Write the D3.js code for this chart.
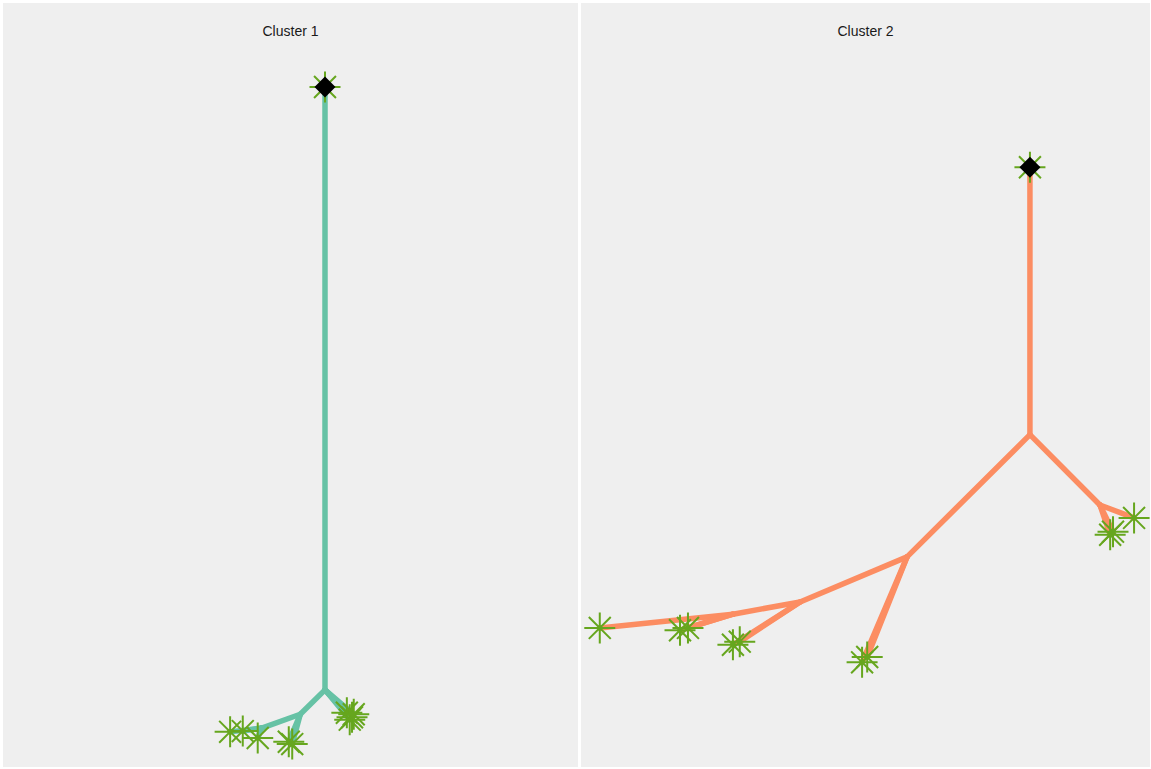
<!DOCTYPE html>
<html>
<head>
<meta charset="utf-8">
<script src="https://cdn.jsdelivr.net/npm/d3@7"></script>
<style>
html,body{margin:0;padding:0;background:#ffffff;}
svg{display:block;}
</style>
</head>
<body>
<svg id="chart" width="1151" height="769"></svg>
<script>
// ---- data (tree node positions in data units) ----
const clusters = ["Cluster 1", "Cluster 2"];

// Cluster 1 nodes: id, x, y, leaf flag
const c1NodeIds = ["R","A","B","C","L1","L2","L3","L9","L4","L5","L6","L7","L8"];
const c1NodeX   = [56.0, 56.0, 51.7, 45.0, 59.8, 60.7, 60.3, 61.0, 39.5, 41.7, 44.3, 49.7, 50.3];
const c1NodeY   = [89.0, 10.1, 6.9, 5.1, 7.1, 6.5, 6.2, 6.9, 4.6, 4.7, 3.8, 3.3, 3.0];
const c1Leaf    = [1,0,0,0,1,1,1,1,1,1,1,1,1];
const c1Edges   = [["R","A"],["A","L1"],["A","L2"],["A","L3"],["A","L9"],["A","B"],["B","C"],["B","L7"],["B","L8"],["C","L4"],["C","L5"],["C","L6"]];

// Cluster 2 nodes
const c2NodeIds = ["R","N1","N2","M1","M2","M3","N3","M4","M5","N4","M6","M7","N6","M8","M9","M10"];
const c2NodeX   = [78.9, 78.9, 91.2, 93.0, 93.5, 97.2, 57.3, 49.4, 50.3, 38.5, 26.7, 27.9, 26.7, 3.3, 17.4, 18.8];
const c2NodeY   = [78.5, 43.5, 34.3, 30.4, 30.8, 32.6, 27.5, 13.7, 14.4, 21.6, 16.0, 16.4, 20.0, 18.2, 17.9, 18.2];
const c2Leaf    = [1,0,0,1,1,1,0,1,1,0,1,1,0,1,1,1];
const c2Edges   = [["R","N1"],["N1","N2"],["N2","M1"],["N2","M2"],["N2","M3"],["N1","N3"],["N3","M4"],["N3","M5"],["N3","N4"],["N4","M6"],["N4","M7"],["N4","N6"],["N6","M8"],["N6","M9"],["N6","M10"]];

const lineColors = ["#66c2a5", "#fc8d62"];
const starColor = "#66a61e";

// ---- layout ----
const svg = d3.select("#chart");
const panels = [
  {x0: 3, x1: 578, y0: 3, y1: 767},
  {x0: 581, x1: 1150, y0: 3, y1: 767}
];

const clusterData = [
  {ids: c1NodeIds, xs: c1NodeX, ys: c1NodeY, leaf: c1Leaf, edges: c1Edges},
  {ids: c2NodeIds, xs: c2NodeX, ys: c2NodeY, leaf: c2Leaf, edges: c2Edges}
];

function starPath(r) {
  const d = r / Math.SQRT2;
  return `M${-r},0L${r},0M0,${-r}L0,${r}M${-d},${-d}L${d},${d}M${-d},${d}L${d},${-d}`;
}

clusterData.forEach((cd, i) => {
  const p = panels[i];
  const g = svg.append("g");
  g.append("rect").attr("x", p.x0).attr("y", p.y0)
    .attr("width", p.x1 - p.x0).attr("height", p.y1 - p.y0)
    .attr("fill", "#efefef");

  const x = d3.scaleLinear().domain([0, 100]).range([p.x0, p.x1]);
  const y = d3.scaleLinear().domain([0, 100]).range([p.y1, p.y0]);

  g.append("text").attr("x", (p.x0 + p.x1) / 2).attr("y", 36)
    .attr("text-anchor", "middle")
    .attr("font-family", "Liberation Sans, Arial, sans-serif")
    .attr("font-size", 14).attr("fill", "#1a1a1a")
    .text(clusters[i]);

  const nodes = cd.ids.map((id, k) => ({id, x: cd.xs[k], y: cd.ys[k], leaf: cd.leaf[k]}));
  const byId = new Map(nodes.map(n => [n.id, n]));

  g.selectAll("line.edge").data(cd.edges).join("line")
    .attr("class", "edge")
    .attr("x1", e => x(byId.get(e[0]).x)).attr("y1", e => y(byId.get(e[0]).y))
    .attr("x2", e => x(byId.get(e[1]).x)).attr("y2", e => y(byId.get(e[1]).y))
    .attr("stroke", lineColors[i]).attr("stroke-width", 5.5)
    .attr("stroke-linecap", "round");

  g.selectAll("path.star").data(nodes.filter(n => n.leaf)).join("path")
    .attr("class", "star")
    .attr("transform", n => `translate(${x(n.x)},${y(n.y)})`)
    .attr("d", starPath(15.5))
    .attr("stroke", starColor).attr("stroke-width", 2).attr("fill", "none");

  const root = nodes[0];
  g.append("path")
    .attr("transform", `translate(${x(root.x)},${y(root.y)})`)
    .attr("d", "M0,-10.5L10.5,0L0,10.5L-10.5,0Z")
    .attr("fill", "#000000");
});
</script>
</body>
</html>
